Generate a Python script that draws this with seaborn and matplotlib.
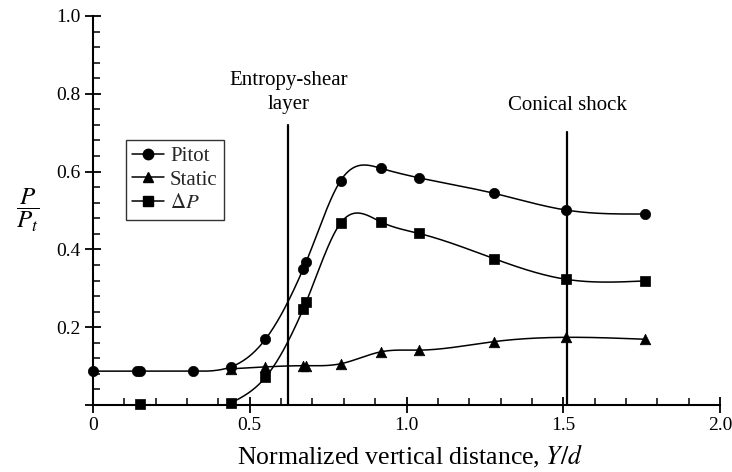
import numpy as np
import pandas as pd
import matplotlib
matplotlib.use("Agg")
import matplotlib.pyplot as plt
from matplotlib.lines import Line2D
from matplotlib.ticker import MultipleLocator, FixedLocator, FixedFormatter
import seaborn as sns

# ---- data ----
pitot_x = [0.0, 0.14, 0.15, 0.32, 0.44, 0.55, 0.67, 0.68, 0.79, 0.92, 1.04, 1.28, 1.51, 1.76]
pitot_y = [0.087, 0.087, 0.087, 0.087, 0.098, 0.169, 0.349, 0.368, 0.577, 0.608, 0.584, 0.544, 0.501, 0.491]

static_x = [0.44, 0.55, 0.67, 0.68, 0.79, 0.92, 1.04, 1.28, 1.51, 1.76]
static_y = [0.093, 0.098, 0.101, 0.101, 0.106, 0.137, 0.141, 0.163, 0.174, 0.169]

dp_x = [0.15, 0.44, 0.55, 0.67, 0.68, 0.79, 0.92, 1.04, 1.28, 1.51, 1.76]
dp_y = [0.003, 0.005, 0.071, 0.246, 0.265, 0.468, 0.470, 0.441, 0.376, 0.323, 0.319]

series_labels = ["Pitot", "Static", r"$\Delta P$"]

entropy_x = 0.623
entropy_top = 0.72
shock_x = 1.513
shock_top = 0.702

x_ticks = [0.0, 0.5, 1.0, 1.5, 2.0]
x_ticklabels = ["0", "0.5", "1.0", "1.5", "2.0"]
y_ticks = [0.0, 0.2, 0.4, 0.6, 0.8, 1.0]
y_ticklabels = ["", "0.2", "0.4", "0.6", "0.8", "1.0"]


def natural_spline(x, y, n=600):
    x = np.asarray(x, float)
    y = np.asarray(y, float)
    m = len(x)
    h = np.diff(x)
    A = np.zeros((m, m))
    b = np.zeros(m)
    A[0, 0] = 1.0
    A[-1, -1] = 1.0
    for i in range(1, m - 1):
        A[i, i - 1] = h[i - 1]
        A[i, i] = 2 * (h[i - 1] + h[i])
        A[i, i + 1] = h[i]
        b[i] = 3 * ((y[i + 1] - y[i]) / h[i] - (y[i] - y[i - 1]) / h[i - 1])
    c = np.linalg.solve(A, b)
    xs = np.linspace(x[0], x[-1], n)
    idx = np.clip(np.searchsorted(x, xs, side="right") - 1, 0, m - 2)
    hi = h[idx]
    bi = (y[idx + 1] - y[idx]) / hi - hi * (2 * c[idx] + c[idx + 1]) / 3
    di = (c[idx + 1] - c[idx]) / (3 * hi)
    t = xs - x[idx]
    ys = y[idx] + bi * t + c[idx] * t ** 2 + di * t ** 3
    return xs, ys


sns.set_theme(style="ticks")
plt.rcParams["font.family"] = ["Liberation Serif", "DejaVu Serif"]
plt.rcParams["mathtext.fontset"] = "stix"

fig = plt.figure(figsize=(7.32, 4.72), dpi=100)
ax = fig.add_axes([93 / 732, 1 - 405 / 472, 627 / 732, 389 / 472])

lw = 1.1
# smooth curves through the measured points
for xs_, ys_ in [(pitot_x, pitot_y), (static_x, static_y), (dp_x[1:], dp_y[1:])]:
    sx, sy = natural_spline(xs_, ys_)
    sns.lineplot(x=sx, y=sy, ax=ax, color="black", lw=lw, sort=False,
                 estimator=None, legend=False)

# vertical reference lines
ax.plot([entropy_x, entropy_x], [0, entropy_top], color="black", lw=1.6, zorder=3)
ax.plot([shock_x, shock_x], [0, shock_top], color="black", lw=1.6, zorder=3)

# markers
msize = 55
sns.scatterplot(x=static_x, y=static_y, ax=ax, marker="^", s=msize * 1.05, color="black",
                edgecolor="black", linewidth=0.5, zorder=4, clip_on=False, legend=False)
sns.scatterplot(x=dp_x, y=dp_y, ax=ax, marker="s", s=msize * 0.9, color="black",
                edgecolor="black", linewidth=0.5, zorder=4, clip_on=False, legend=False)
sns.scatterplot(x=pitot_x, y=pitot_y, ax=ax, marker="o", s=msize, color="black",
                edgecolor="black", linewidth=0.5, zorder=5, clip_on=False, legend=False)

ax.set_xlim(0, 2.0)
ax.set_ylim(0, 1.0)
for s in ["top", "right"]:
    ax.spines[s].set_visible(False)
for s in ["left", "bottom"]:
    ax.spines[s].set_linewidth(1.5)
    ax.spines[s].set_color("black")

ax.xaxis.set_major_locator(FixedLocator(x_ticks))
ax.xaxis.set_major_formatter(FixedFormatter(x_ticklabels))
ax.yaxis.set_major_locator(FixedLocator(y_ticks))
ax.yaxis.set_major_formatter(FixedFormatter(y_ticklabels))
ax.xaxis.set_minor_locator(MultipleLocator(0.1))
ax.yaxis.set_minor_locator(MultipleLocator(0.04))
ax.tick_params(which="major", direction="inout", length=12, width=1.3,
               labelsize=14, colors="black", pad=3)
ax.tick_params(which="minor", direction="in", length=5, width=1.1, colors="black")

ax.set_xlabel("Normalized vertical distance, $Y/d$", fontsize=18.5, color="black")
ax.xaxis.set_label_coords((410 - 93) / 627, (405 - 456) / 389)
ax.xaxis.label.set_va("center")
ax.set_ylabel(r"$\dfrac{P}{P_t}$", fontsize=18, rotation=0, color="black")
ax.yaxis.set_label_coords(-0.104, 0.50)
ax.yaxis.label.set_va("center")

ax.text(entropy_x, (405 - 81) / 389, "Entropy-shear", ha="center", va="center",
        fontsize=15, color="black")
ax.text(entropy_x, (405 - 105) / 389, "layer", ha="center", va="center",
        fontsize=15, color="black")
ax.text(shock_x, (405 - 106) / 389, "Conical shock", ha="center", va="center",
        fontsize=15, color="black")

handles = [
    Line2D([0], [0], color="black", lw=lw, marker="o", markersize=7.5),
    Line2D([0], [0], color="black", lw=lw, marker="^", markersize=7.5),
    Line2D([0], [0], color="black", lw=lw, marker="s", markersize=7),
]
leg = ax.legend(handles, series_labels, loc="upper left", bbox_to_anchor=(0.053, 0.681),
                borderaxespad=0, frameon=True, fancybox=False, fontsize=15,
                handlelength=1.5, handletextpad=0.3, labelspacing=0.2,
                borderpad=0.3)
leg.get_frame().set_edgecolor("black")
leg.get_frame().set_linewidth(1.0)

fig.savefig("out.png", dpi=100, facecolor="white")
